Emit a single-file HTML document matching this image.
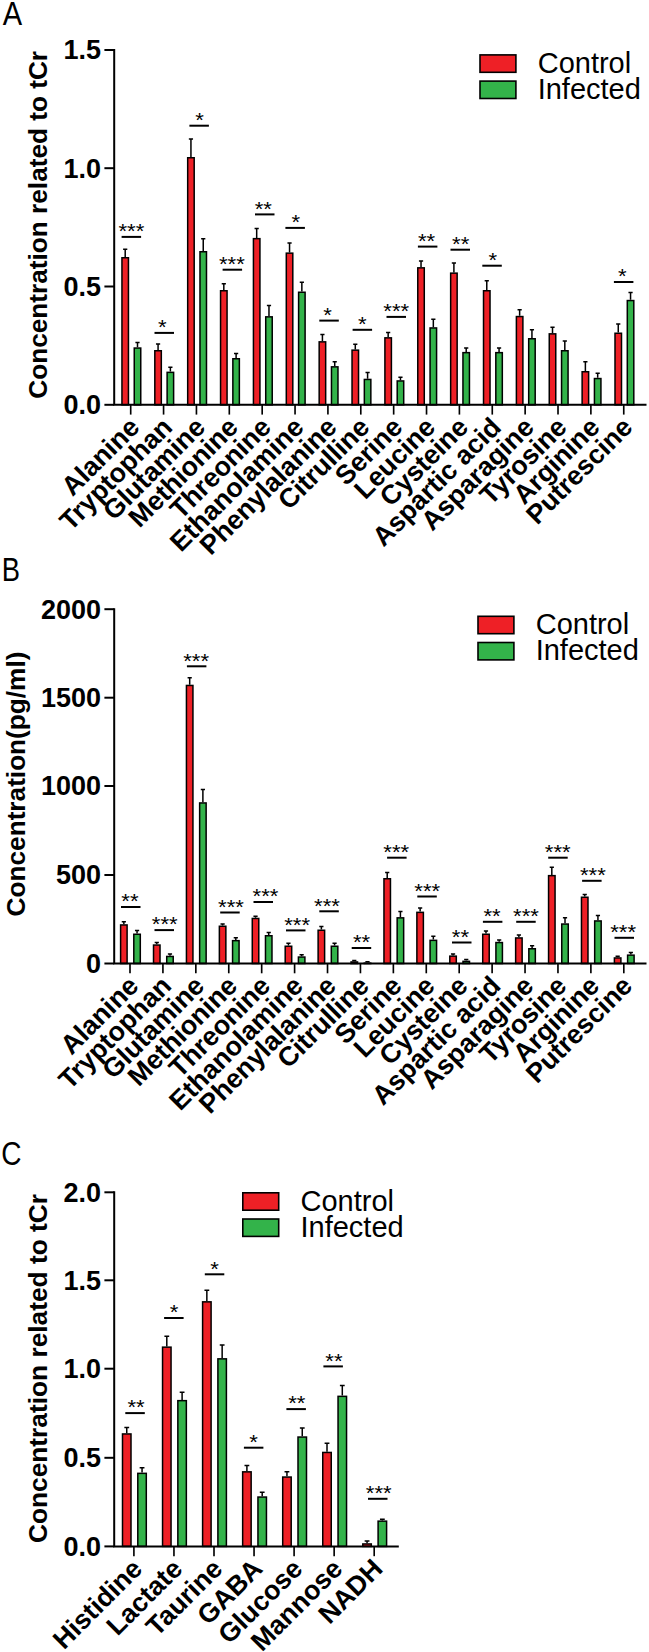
<!DOCTYPE html>
<html><head><meta charset="utf-8"><title>Figure</title>
<style>
html,body{margin:0;padding:0;background:#fff}
body{width:649px;height:1652px;overflow:hidden}
svg{display:block}
text{font-family:"Liberation Sans",sans-serif;fill:#000}
.b{font-weight:700}
.r{font-weight:400}
</style></head><body>
<svg width="649" height="1652" viewBox="0 0 649 1652">
<rect width="649" height="1652" fill="#fff"/>
<path d="M125.20 257.00V249.30M123.10 249.30H127.30" stroke="#000" stroke-width="1.5" fill="none"/>
<path d="M137.50 347.30V342.60M135.40 342.60H139.60" stroke="#000" stroke-width="1.5" fill="none"/>
<rect x="121.95" y="257.75" width="6.50" height="147.05" fill="#EE2026" stroke="#000" stroke-width="1.5"/>
<rect x="134.25" y="348.05" width="6.50" height="56.75" fill="#33B34A" stroke="#000" stroke-width="1.5"/>
<path d="M121.60 236.90h19.5" stroke="#000" stroke-width="2.0" fill="none"/>
<text transform="translate(131.40 238.10) scale(1.03 0.945)" font-size="21.5" text-anchor="middle" class="r">***</text>
<path d="M158.07 350.00V343.90M155.97 343.90H160.17" stroke="#000" stroke-width="1.5" fill="none"/>
<path d="M170.37 371.60V367.30M168.27 367.30H172.47" stroke="#000" stroke-width="1.5" fill="none"/>
<rect x="154.82" y="350.75" width="6.50" height="54.05" fill="#EE2026" stroke="#000" stroke-width="1.5"/>
<rect x="167.12" y="372.35" width="6.50" height="32.45" fill="#33B34A" stroke="#000" stroke-width="1.5"/>
<path d="M154.50 332.90h19.5" stroke="#000" stroke-width="2.0" fill="none"/>
<text transform="translate(162.20 334.10) scale(1.03 0.945)" font-size="21.5" text-anchor="middle" class="r">*</text>
<path d="M190.94 157.00V139.10M188.84 139.10H193.04" stroke="#000" stroke-width="1.5" fill="none"/>
<path d="M203.24 251.00V238.70M201.14 238.70H205.34" stroke="#000" stroke-width="1.5" fill="none"/>
<rect x="187.69" y="157.75" width="6.50" height="247.05" fill="#EE2026" stroke="#000" stroke-width="1.5"/>
<rect x="199.99" y="251.75" width="6.50" height="153.05" fill="#33B34A" stroke="#000" stroke-width="1.5"/>
<path d="M189.40 125.70h19.5" stroke="#000" stroke-width="2.0" fill="none"/>
<text transform="translate(199.50 126.90) scale(1.03 0.945)" font-size="21.5" text-anchor="middle" class="r">*</text>
<path d="M223.81 290.00V283.80M221.71 283.80H225.91" stroke="#000" stroke-width="1.5" fill="none"/>
<path d="M236.11 358.00V353.40M234.01 353.40H238.21" stroke="#000" stroke-width="1.5" fill="none"/>
<rect x="220.56" y="290.75" width="6.50" height="114.05" fill="#EE2026" stroke="#000" stroke-width="1.5"/>
<rect x="232.86" y="358.75" width="6.50" height="46.05" fill="#33B34A" stroke="#000" stroke-width="1.5"/>
<path d="M222.60 269.70h19.5" stroke="#000" stroke-width="2.0" fill="none"/>
<text transform="translate(231.90 270.90) scale(1.03 0.945)" font-size="21.5" text-anchor="middle" class="r">***</text>
<path d="M256.68 237.90V228.60M254.58 228.60H258.78" stroke="#000" stroke-width="1.5" fill="none"/>
<path d="M268.98 316.10V305.40M266.88 305.40H271.08" stroke="#000" stroke-width="1.5" fill="none"/>
<rect x="253.43" y="238.65" width="6.50" height="166.15" fill="#EE2026" stroke="#000" stroke-width="1.5"/>
<rect x="265.73" y="316.85" width="6.50" height="87.95" fill="#33B34A" stroke="#000" stroke-width="1.5"/>
<path d="M255.00 214.40h19.5" stroke="#000" stroke-width="2.0" fill="none"/>
<text transform="translate(263.30 215.60) scale(1.03 0.945)" font-size="21.5" text-anchor="middle" class="r">**</text>
<path d="M289.55 252.40V243.10M287.45 243.10H291.65" stroke="#000" stroke-width="1.5" fill="none"/>
<path d="M301.85 291.50V282.20M299.75 282.20H303.95" stroke="#000" stroke-width="1.5" fill="none"/>
<rect x="286.30" y="253.15" width="6.50" height="151.65" fill="#EE2026" stroke="#000" stroke-width="1.5"/>
<rect x="298.60" y="292.25" width="6.50" height="112.55" fill="#33B34A" stroke="#000" stroke-width="1.5"/>
<path d="M285.40 227.90h19.5" stroke="#000" stroke-width="2.0" fill="none"/>
<text transform="translate(295.70 229.10) scale(1.03 0.945)" font-size="21.5" text-anchor="middle" class="r">*</text>
<path d="M322.42 341.10V334.60M320.32 334.60H324.52" stroke="#000" stroke-width="1.5" fill="none"/>
<path d="M334.72 366.10V361.80M332.62 361.80H336.82" stroke="#000" stroke-width="1.5" fill="none"/>
<rect x="319.17" y="341.85" width="6.50" height="62.95" fill="#EE2026" stroke="#000" stroke-width="1.5"/>
<rect x="331.47" y="366.85" width="6.50" height="37.95" fill="#33B34A" stroke="#000" stroke-width="1.5"/>
<path d="M319.30 320.60h19.5" stroke="#000" stroke-width="2.0" fill="none"/>
<text transform="translate(327.60 321.80) scale(1.03 0.945)" font-size="21.5" text-anchor="middle" class="r">*</text>
<path d="M355.29 349.40V344.20M353.19 344.20H357.39" stroke="#000" stroke-width="1.5" fill="none"/>
<path d="M367.59 378.70V372.50M365.49 372.50H369.69" stroke="#000" stroke-width="1.5" fill="none"/>
<rect x="352.04" y="350.15" width="6.50" height="54.65" fill="#EE2026" stroke="#000" stroke-width="1.5"/>
<rect x="364.34" y="379.45" width="6.50" height="25.35" fill="#33B34A" stroke="#000" stroke-width="1.5"/>
<path d="M352.60 329.80h19.5" stroke="#000" stroke-width="2.0" fill="none"/>
<text transform="translate(362.40 331.00) scale(1.03 0.945)" font-size="21.5" text-anchor="middle" class="r">*</text>
<path d="M388.16 337.10V332.50M386.06 332.50H390.26" stroke="#000" stroke-width="1.5" fill="none"/>
<path d="M400.46 380.20V377.20M398.36 377.20H402.56" stroke="#000" stroke-width="1.5" fill="none"/>
<rect x="384.91" y="337.85" width="6.50" height="66.95" fill="#EE2026" stroke="#000" stroke-width="1.5"/>
<rect x="397.21" y="380.95" width="6.50" height="23.85" fill="#33B34A" stroke="#000" stroke-width="1.5"/>
<path d="M386.50 316.90h19.5" stroke="#000" stroke-width="2.0" fill="none"/>
<text transform="translate(396.30 318.10) scale(1.03 0.945)" font-size="21.5" text-anchor="middle" class="r">***</text>
<path d="M421.03 267.10V261.00M418.93 261.00H423.13" stroke="#000" stroke-width="1.5" fill="none"/>
<path d="M433.33 327.20V319.20M431.23 319.20H435.43" stroke="#000" stroke-width="1.5" fill="none"/>
<rect x="417.78" y="267.85" width="6.50" height="136.95" fill="#EE2026" stroke="#000" stroke-width="1.5"/>
<rect x="430.08" y="327.95" width="6.50" height="76.85" fill="#33B34A" stroke="#000" stroke-width="1.5"/>
<path d="M417.90 246.60h19.5" stroke="#000" stroke-width="2.0" fill="none"/>
<text transform="translate(426.50 247.80) scale(1.03 0.945)" font-size="21.5" text-anchor="middle" class="r">**</text>
<path d="M453.90 272.40V263.10M451.80 263.10H456.00" stroke="#000" stroke-width="1.5" fill="none"/>
<path d="M466.20 351.90V347.90M464.10 347.90H468.30" stroke="#000" stroke-width="1.5" fill="none"/>
<rect x="450.65" y="273.15" width="6.50" height="131.65" fill="#EE2026" stroke="#000" stroke-width="1.5"/>
<rect x="462.95" y="352.65" width="6.50" height="52.15" fill="#33B34A" stroke="#000" stroke-width="1.5"/>
<path d="M450.50 249.70h19.5" stroke="#000" stroke-width="2.0" fill="none"/>
<text transform="translate(460.70 250.90) scale(1.03 0.945)" font-size="21.5" text-anchor="middle" class="r">**</text>
<path d="M486.77 290.00V280.70M484.67 280.70H488.87" stroke="#000" stroke-width="1.5" fill="none"/>
<path d="M499.07 351.90V347.90M496.97 347.90H501.17" stroke="#000" stroke-width="1.5" fill="none"/>
<rect x="483.52" y="290.75" width="6.50" height="114.05" fill="#EE2026" stroke="#000" stroke-width="1.5"/>
<rect x="495.82" y="352.65" width="6.50" height="52.15" fill="#33B34A" stroke="#000" stroke-width="1.5"/>
<path d="M482.30 265.70h19.5" stroke="#000" stroke-width="2.0" fill="none"/>
<text transform="translate(492.80 266.90) scale(1.03 0.945)" font-size="21.5" text-anchor="middle" class="r">*</text>
<path d="M519.64 315.80V309.70M517.54 309.70H521.74" stroke="#000" stroke-width="1.5" fill="none"/>
<path d="M531.94 338.00V329.70M529.84 329.70H534.04" stroke="#000" stroke-width="1.5" fill="none"/>
<rect x="516.39" y="316.55" width="6.50" height="88.25" fill="#EE2026" stroke="#000" stroke-width="1.5"/>
<rect x="528.69" y="338.75" width="6.50" height="66.05" fill="#33B34A" stroke="#000" stroke-width="1.5"/>
<path d="M552.51 333.10V327.20M550.41 327.20H554.61" stroke="#000" stroke-width="1.5" fill="none"/>
<path d="M564.81 350.00V341.10M562.71 341.10H566.91" stroke="#000" stroke-width="1.5" fill="none"/>
<rect x="549.26" y="333.85" width="6.50" height="70.95" fill="#EE2026" stroke="#000" stroke-width="1.5"/>
<rect x="561.56" y="350.75" width="6.50" height="54.05" fill="#33B34A" stroke="#000" stroke-width="1.5"/>
<path d="M585.38 371.00V361.80M583.28 361.80H587.48" stroke="#000" stroke-width="1.5" fill="none"/>
<path d="M597.68 377.80V373.20M595.58 373.20H599.78" stroke="#000" stroke-width="1.5" fill="none"/>
<rect x="582.13" y="371.75" width="6.50" height="33.05" fill="#EE2026" stroke="#000" stroke-width="1.5"/>
<rect x="594.43" y="378.55" width="6.50" height="26.25" fill="#33B34A" stroke="#000" stroke-width="1.5"/>
<path d="M618.25 332.50V323.90M616.15 323.90H620.35" stroke="#000" stroke-width="1.5" fill="none"/>
<path d="M630.55 299.80V292.40M628.45 292.40H632.65" stroke="#000" stroke-width="1.5" fill="none"/>
<rect x="615.00" y="333.25" width="6.50" height="71.55" fill="#EE2026" stroke="#000" stroke-width="1.5"/>
<rect x="627.30" y="300.55" width="6.50" height="104.25" fill="#33B34A" stroke="#000" stroke-width="1.5"/>
<path d="M613.90 282.00h19.5" stroke="#000" stroke-width="2.0" fill="none"/>
<text transform="translate(622.20 283.20) scale(1.03 0.945)" font-size="21.5" text-anchor="middle" class="r">*</text>
<path d="M114.2 49.00V404.80H646.5" stroke="#000" stroke-width="2.0" fill="none" stroke-linejoin="miter"/>
<path d="M104.40 50.00H114.2" stroke="#000" stroke-width="2.0"/>
<text x="101.10" y="59.30" font-size="27" text-anchor="end" class="b">1.5</text>
<path d="M104.40 168.20H114.2" stroke="#000" stroke-width="2.0"/>
<text x="101.10" y="177.50" font-size="27" text-anchor="end" class="b">1.0</text>
<path d="M104.40 286.50H114.2" stroke="#000" stroke-width="2.0"/>
<text x="101.10" y="295.80" font-size="27" text-anchor="end" class="b">0.5</text>
<path d="M104.40 404.80H114.2" stroke="#000" stroke-width="2.0"/>
<text x="101.10" y="414.10" font-size="27" text-anchor="end" class="b">0.0</text>
<path d="M130.70 404.80v9.8" stroke="#000" stroke-width="1.65"/>
<text transform="translate(141.00 428.80) rotate(-45)" font-size="26.8" text-anchor="end" class="b">Alanine</text>
<path d="M163.57 404.80v9.8" stroke="#000" stroke-width="1.65"/>
<text transform="translate(173.87 428.80) rotate(-45)" font-size="26.8" text-anchor="end" class="b">Tryptophan</text>
<path d="M196.44 404.80v9.8" stroke="#000" stroke-width="1.65"/>
<text transform="translate(206.74 428.80) rotate(-45)" font-size="26.8" text-anchor="end" class="b">Glutamine</text>
<path d="M229.31 404.80v9.8" stroke="#000" stroke-width="1.65"/>
<text transform="translate(239.61 428.80) rotate(-45)" font-size="26.8" text-anchor="end" class="b">Methionine</text>
<path d="M262.18 404.80v9.8" stroke="#000" stroke-width="1.65"/>
<text transform="translate(272.48 428.80) rotate(-45)" font-size="26.8" text-anchor="end" class="b">Threonine</text>
<path d="M295.05 404.80v9.8" stroke="#000" stroke-width="1.65"/>
<text transform="translate(305.35 428.80) rotate(-45)" font-size="26.8" text-anchor="end" class="b">Ethanolamine</text>
<path d="M327.92 404.80v9.8" stroke="#000" stroke-width="1.65"/>
<text transform="translate(338.22 428.80) rotate(-45)" font-size="26.8" text-anchor="end" class="b">Phenylalanine</text>
<path d="M360.79 404.80v9.8" stroke="#000" stroke-width="1.65"/>
<text transform="translate(371.09 428.80) rotate(-45)" font-size="26.8" text-anchor="end" class="b">Citrulline</text>
<path d="M393.66 404.80v9.8" stroke="#000" stroke-width="1.65"/>
<text transform="translate(403.96 428.80) rotate(-45)" font-size="26.8" text-anchor="end" class="b">Serine</text>
<path d="M426.53 404.80v9.8" stroke="#000" stroke-width="1.65"/>
<text transform="translate(436.83 428.80) rotate(-45)" font-size="26.8" text-anchor="end" class="b">Leucine</text>
<path d="M459.40 404.80v9.8" stroke="#000" stroke-width="1.65"/>
<text transform="translate(469.70 428.80) rotate(-45)" font-size="26.8" text-anchor="end" class="b">Cysteine</text>
<path d="M492.27 404.80v9.8" stroke="#000" stroke-width="1.65"/>
<text transform="translate(502.57 428.80) rotate(-45)" font-size="26.8" text-anchor="end" class="b">Aspartic acid</text>
<path d="M525.14 404.80v9.8" stroke="#000" stroke-width="1.65"/>
<text transform="translate(535.44 428.80) rotate(-45)" font-size="26.8" text-anchor="end" class="b">Asparagine</text>
<path d="M558.01 404.80v9.8" stroke="#000" stroke-width="1.65"/>
<text transform="translate(568.31 428.80) rotate(-45)" font-size="26.8" text-anchor="end" class="b">Tyrosine</text>
<path d="M590.88 404.80v9.8" stroke="#000" stroke-width="1.65"/>
<text transform="translate(601.18 428.80) rotate(-45)" font-size="26.8" text-anchor="end" class="b">Arginine</text>
<path d="M623.75 404.80v9.8" stroke="#000" stroke-width="1.65"/>
<text transform="translate(634.05 428.80) rotate(-45)" font-size="26.8" text-anchor="end" class="b">Putrescine</text>
<text transform="translate(47.0 224.8) rotate(-90)" font-size="26.2" text-anchor="middle" class="b">Concentration related to tCr</text>
<rect x="480.00" y="54.90" width="35.9" height="17.4" fill="#EE2026" stroke="#000" stroke-width="1.6"/>
<rect x="480.00" y="81.10" width="35.9" height="17.4" fill="#33B34A" stroke="#000" stroke-width="1.6"/>
<text x="537.70" y="73.00" font-size="29" class="r">Control</text>
<text x="537.70" y="98.80" font-size="29" class="r">Infected</text>
<text transform="translate(2.7 24.8) scale(0.855 1)" font-size="34" class="r">A</text>
<path d="M123.85 924.20V921.80M121.75 921.80H125.95" stroke="#000" stroke-width="1.5" fill="none"/>
<path d="M137.05 933.50V930.40M134.95 930.40H139.15" stroke="#000" stroke-width="1.5" fill="none"/>
<rect x="120.60" y="924.95" width="6.50" height="38.55" fill="#EE2026" stroke="#000" stroke-width="1.5"/>
<rect x="133.80" y="934.25" width="6.50" height="29.25" fill="#33B34A" stroke="#000" stroke-width="1.5"/>
<path d="M121.00 907.00h19.5" stroke="#000" stroke-width="2.0" fill="none"/>
<text transform="translate(129.90 908.20) scale(1.03 0.945)" font-size="21.5" text-anchor="middle" class="r">**</text>
<path d="M156.77 944.30V942.40M154.67 942.40H158.87" stroke="#000" stroke-width="1.5" fill="none"/>
<path d="M169.97 955.70V954.10M167.87 954.10H172.07" stroke="#000" stroke-width="1.5" fill="none"/>
<rect x="153.52" y="945.05" width="6.50" height="18.45" fill="#EE2026" stroke="#000" stroke-width="1.5"/>
<rect x="166.72" y="956.45" width="6.50" height="7.05" fill="#33B34A" stroke="#000" stroke-width="1.5"/>
<path d="M154.50 930.10h19.5" stroke="#000" stroke-width="2.0" fill="none"/>
<text transform="translate(164.70 931.30) scale(1.03 0.945)" font-size="21.5" text-anchor="middle" class="r">***</text>
<path d="M189.69 684.70V677.70M187.59 677.70H191.79" stroke="#000" stroke-width="1.5" fill="none"/>
<path d="M202.89 802.20V789.40M200.79 789.40H204.99" stroke="#000" stroke-width="1.5" fill="none"/>
<rect x="186.44" y="685.45" width="6.50" height="278.05" fill="#EE2026" stroke="#000" stroke-width="1.5"/>
<rect x="199.64" y="802.95" width="6.50" height="160.55" fill="#33B34A" stroke="#000" stroke-width="1.5"/>
<path d="M186.90 666.30h19.5" stroke="#000" stroke-width="2.0" fill="none"/>
<text transform="translate(196.10 667.50) scale(1.03 0.945)" font-size="21.5" text-anchor="middle" class="r">***</text>
<path d="M222.61 925.50V923.90M220.51 923.90H224.71" stroke="#000" stroke-width="1.5" fill="none"/>
<path d="M235.81 939.90V937.80M233.71 937.80H237.91" stroke="#000" stroke-width="1.5" fill="none"/>
<rect x="219.36" y="926.25" width="6.50" height="37.25" fill="#EE2026" stroke="#000" stroke-width="1.5"/>
<rect x="232.56" y="940.65" width="6.50" height="22.85" fill="#33B34A" stroke="#000" stroke-width="1.5"/>
<path d="M220.20 912.50h19.5" stroke="#000" stroke-width="2.0" fill="none"/>
<text transform="translate(231.00 913.70) scale(1.03 0.945)" font-size="21.5" text-anchor="middle" class="r">***</text>
<path d="M255.53 917.70V916.20M253.43 916.20H257.63" stroke="#000" stroke-width="1.5" fill="none"/>
<path d="M268.73 935.00V932.50M266.63 932.50H270.83" stroke="#000" stroke-width="1.5" fill="none"/>
<rect x="252.28" y="918.45" width="6.50" height="45.05" fill="#EE2026" stroke="#000" stroke-width="1.5"/>
<rect x="265.48" y="935.75" width="6.50" height="27.75" fill="#33B34A" stroke="#000" stroke-width="1.5"/>
<path d="M253.50 902.00h19.5" stroke="#000" stroke-width="2.0" fill="none"/>
<text transform="translate(265.50 903.20) scale(1.03 0.945)" font-size="21.5" text-anchor="middle" class="r">***</text>
<path d="M288.45 945.50V943.30M286.35 943.30H290.55" stroke="#000" stroke-width="1.5" fill="none"/>
<path d="M301.65 956.30V954.70M299.55 954.70H303.75" stroke="#000" stroke-width="1.5" fill="none"/>
<rect x="285.20" y="946.25" width="6.50" height="17.25" fill="#EE2026" stroke="#000" stroke-width="1.5"/>
<rect x="298.40" y="957.05" width="6.50" height="6.45" fill="#33B34A" stroke="#000" stroke-width="1.5"/>
<path d="M286.00 930.40h19.5" stroke="#000" stroke-width="2.0" fill="none"/>
<text transform="translate(297.10 931.60) scale(1.03 0.945)" font-size="21.5" text-anchor="middle" class="r">***</text>
<path d="M321.37 929.50V926.40M319.27 926.40H323.47" stroke="#000" stroke-width="1.5" fill="none"/>
<path d="M334.57 945.50V943.30M332.47 943.30H336.67" stroke="#000" stroke-width="1.5" fill="none"/>
<rect x="318.12" y="930.25" width="6.50" height="33.25" fill="#EE2026" stroke="#000" stroke-width="1.5"/>
<rect x="331.32" y="946.25" width="6.50" height="17.25" fill="#33B34A" stroke="#000" stroke-width="1.5"/>
<path d="M319.30 911.30h19.5" stroke="#000" stroke-width="2.0" fill="none"/>
<text transform="translate(327.00 912.50) scale(1.03 0.945)" font-size="21.5" text-anchor="middle" class="r">***</text>
<path d="M354.29 961.20V960.60M352.19 960.60H356.39" stroke="#000" stroke-width="1.5" fill="none"/>
<path d="M367.49 962.40V961.80M365.39 961.80H369.59" stroke="#000" stroke-width="1.5" fill="none"/>
<rect x="351.04" y="961.95" width="6.50" height="1.55" fill="#EE2026" stroke="#000" stroke-width="1.5"/>
<rect x="364.24" y="963.15" width="6.50" height="0.35" fill="#33B34A" stroke="#000" stroke-width="1.5"/>
<path d="M351.70 948.00h19.5" stroke="#000" stroke-width="2.0" fill="none"/>
<text transform="translate(361.50 949.20) scale(1.03 0.945)" font-size="21.5" text-anchor="middle" class="r">**</text>
<path d="M387.21 878.00V872.40M385.11 872.40H389.31" stroke="#000" stroke-width="1.5" fill="none"/>
<path d="M400.41 917.10V911.60M398.31 911.60H402.51" stroke="#000" stroke-width="1.5" fill="none"/>
<rect x="383.96" y="878.75" width="6.50" height="84.75" fill="#EE2026" stroke="#000" stroke-width="1.5"/>
<rect x="397.16" y="917.85" width="6.50" height="45.65" fill="#33B34A" stroke="#000" stroke-width="1.5"/>
<path d="M387.10 857.70h19.5" stroke="#000" stroke-width="2.0" fill="none"/>
<text transform="translate(396.30 858.90) scale(1.03 0.945)" font-size="21.5" text-anchor="middle" class="r">***</text>
<path d="M420.13 911.60V907.90M418.03 907.90H422.23" stroke="#000" stroke-width="1.5" fill="none"/>
<path d="M433.33 939.60V936.20M431.23 936.20H435.43" stroke="#000" stroke-width="1.5" fill="none"/>
<rect x="416.88" y="912.35" width="6.50" height="51.15" fill="#EE2026" stroke="#000" stroke-width="1.5"/>
<rect x="430.08" y="940.35" width="6.50" height="23.15" fill="#33B34A" stroke="#000" stroke-width="1.5"/>
<path d="M417.30 896.50h19.5" stroke="#000" stroke-width="2.0" fill="none"/>
<text transform="translate(427.20 897.70) scale(1.03 0.945)" font-size="21.5" text-anchor="middle" class="r">***</text>
<path d="M453.05 955.40V954.10M450.95 954.10H455.15" stroke="#000" stroke-width="1.5" fill="none"/>
<path d="M466.25 960.60V959.40M464.15 959.40H468.35" stroke="#000" stroke-width="1.5" fill="none"/>
<rect x="449.80" y="956.15" width="6.50" height="7.35" fill="#EE2026" stroke="#000" stroke-width="1.5"/>
<rect x="463.00" y="961.35" width="6.50" height="2.15" fill="#33B34A" stroke="#000" stroke-width="1.5"/>
<path d="M452.00 942.50h19.5" stroke="#000" stroke-width="2.0" fill="none"/>
<text transform="translate(460.40 943.70) scale(1.03 0.945)" font-size="21.5" text-anchor="middle" class="r">**</text>
<path d="M485.97 933.50V931.00M483.87 931.00H488.07" stroke="#000" stroke-width="1.5" fill="none"/>
<path d="M499.17 941.80V939.90M497.07 939.90H501.27" stroke="#000" stroke-width="1.5" fill="none"/>
<rect x="482.72" y="934.25" width="6.50" height="29.25" fill="#EE2026" stroke="#000" stroke-width="1.5"/>
<rect x="495.92" y="942.55" width="6.50" height="20.95" fill="#33B34A" stroke="#000" stroke-width="1.5"/>
<path d="M482.90 921.80h19.5" stroke="#000" stroke-width="2.0" fill="none"/>
<text transform="translate(492.10 923.00) scale(1.03 0.945)" font-size="21.5" text-anchor="middle" class="r">**</text>
<path d="M518.89 937.20V935.00M516.79 935.00H520.99" stroke="#000" stroke-width="1.5" fill="none"/>
<path d="M532.09 948.00V945.80M529.99 945.80H534.19" stroke="#000" stroke-width="1.5" fill="none"/>
<rect x="515.64" y="937.95" width="6.50" height="25.55" fill="#EE2026" stroke="#000" stroke-width="1.5"/>
<rect x="528.84" y="948.75" width="6.50" height="14.75" fill="#33B34A" stroke="#000" stroke-width="1.5"/>
<path d="M516.20 921.80h19.5" stroke="#000" stroke-width="2.0" fill="none"/>
<text transform="translate(526.00 923.00) scale(1.03 0.945)" font-size="21.5" text-anchor="middle" class="r">***</text>
<path d="M551.81 874.90V867.20M549.71 867.20H553.91" stroke="#000" stroke-width="1.5" fill="none"/>
<path d="M565.01 923.30V917.80M562.91 917.80H567.11" stroke="#000" stroke-width="1.5" fill="none"/>
<rect x="548.56" y="875.65" width="6.50" height="87.85" fill="#EE2026" stroke="#000" stroke-width="1.5"/>
<rect x="561.76" y="924.05" width="6.50" height="39.45" fill="#33B34A" stroke="#000" stroke-width="1.5"/>
<path d="M548.20 857.70h19.5" stroke="#000" stroke-width="2.0" fill="none"/>
<text transform="translate(557.80 858.90) scale(1.03 0.945)" font-size="21.5" text-anchor="middle" class="r">***</text>
<path d="M584.73 896.50V894.60M582.63 894.60H586.83" stroke="#000" stroke-width="1.5" fill="none"/>
<path d="M597.93 920.20V915.60M595.83 915.60H600.03" stroke="#000" stroke-width="1.5" fill="none"/>
<rect x="581.48" y="897.25" width="6.50" height="66.25" fill="#EE2026" stroke="#000" stroke-width="1.5"/>
<rect x="594.68" y="920.95" width="6.50" height="42.55" fill="#33B34A" stroke="#000" stroke-width="1.5"/>
<path d="M582.10 880.80h19.5" stroke="#000" stroke-width="2.0" fill="none"/>
<text transform="translate(592.90 882.00) scale(1.03 0.945)" font-size="21.5" text-anchor="middle" class="r">***</text>
<path d="M617.65 957.20V956.30M615.55 956.30H619.75" stroke="#000" stroke-width="1.5" fill="none"/>
<path d="M630.85 954.40V952.60M628.75 952.60H632.95" stroke="#000" stroke-width="1.5" fill="none"/>
<rect x="614.40" y="957.95" width="6.50" height="5.55" fill="#EE2026" stroke="#000" stroke-width="1.5"/>
<rect x="627.60" y="955.15" width="6.50" height="8.35" fill="#33B34A" stroke="#000" stroke-width="1.5"/>
<path d="M614.50 937.80h19.5" stroke="#000" stroke-width="2.0" fill="none"/>
<text transform="translate(623.10 939.00) scale(1.03 0.945)" font-size="21.5" text-anchor="middle" class="r">***</text>
<path d="M114.2 608.20V963.50H646.5" stroke="#000" stroke-width="2.0" fill="none" stroke-linejoin="miter"/>
<path d="M104.40 609.20H114.2" stroke="#000" stroke-width="2.0"/>
<text x="101.10" y="618.50" font-size="27" text-anchor="end" class="b">2000</text>
<path d="M104.40 697.70H114.2" stroke="#000" stroke-width="2.0"/>
<text x="101.10" y="707.00" font-size="27" text-anchor="end" class="b">1500</text>
<path d="M104.40 786.00H114.2" stroke="#000" stroke-width="2.0"/>
<text x="101.10" y="795.30" font-size="27" text-anchor="end" class="b">1000</text>
<path d="M104.40 875.00H114.2" stroke="#000" stroke-width="2.0"/>
<text x="101.10" y="884.30" font-size="27" text-anchor="end" class="b">500</text>
<path d="M104.40 963.50H114.2" stroke="#000" stroke-width="2.0"/>
<text x="101.10" y="972.80" font-size="27" text-anchor="end" class="b">0</text>
<path d="M130.00 963.50v9.8" stroke="#000" stroke-width="1.65"/>
<text transform="translate(140.00 987.50) rotate(-45)" font-size="26.8" text-anchor="end" class="b">Alanine</text>
<path d="M162.92 963.50v9.8" stroke="#000" stroke-width="1.65"/>
<text transform="translate(172.92 987.50) rotate(-45)" font-size="26.8" text-anchor="end" class="b">Tryptophan</text>
<path d="M195.84 963.50v9.8" stroke="#000" stroke-width="1.65"/>
<text transform="translate(205.84 987.50) rotate(-45)" font-size="26.8" text-anchor="end" class="b">Glutamine</text>
<path d="M228.76 963.50v9.8" stroke="#000" stroke-width="1.65"/>
<text transform="translate(238.76 987.50) rotate(-45)" font-size="26.8" text-anchor="end" class="b">Methionine</text>
<path d="M261.68 963.50v9.8" stroke="#000" stroke-width="1.65"/>
<text transform="translate(271.68 987.50) rotate(-45)" font-size="26.8" text-anchor="end" class="b">Threonine</text>
<path d="M294.60 963.50v9.8" stroke="#000" stroke-width="1.65"/>
<text transform="translate(304.60 987.50) rotate(-45)" font-size="26.8" text-anchor="end" class="b">Ethanolamine</text>
<path d="M327.52 963.50v9.8" stroke="#000" stroke-width="1.65"/>
<text transform="translate(337.52 987.50) rotate(-45)" font-size="26.8" text-anchor="end" class="b">Phenylalanine</text>
<path d="M360.44 963.50v9.8" stroke="#000" stroke-width="1.65"/>
<text transform="translate(370.44 987.50) rotate(-45)" font-size="26.8" text-anchor="end" class="b">Citrulline</text>
<path d="M393.36 963.50v9.8" stroke="#000" stroke-width="1.65"/>
<text transform="translate(403.36 987.50) rotate(-45)" font-size="26.8" text-anchor="end" class="b">Serine</text>
<path d="M426.28 963.50v9.8" stroke="#000" stroke-width="1.65"/>
<text transform="translate(436.28 987.50) rotate(-45)" font-size="26.8" text-anchor="end" class="b">Leucine</text>
<path d="M459.20 963.50v9.8" stroke="#000" stroke-width="1.65"/>
<text transform="translate(469.20 987.50) rotate(-45)" font-size="26.8" text-anchor="end" class="b">Cysteine</text>
<path d="M492.12 963.50v9.8" stroke="#000" stroke-width="1.65"/>
<text transform="translate(502.12 987.50) rotate(-45)" font-size="26.8" text-anchor="end" class="b">Aspartic acid</text>
<path d="M525.04 963.50v9.8" stroke="#000" stroke-width="1.65"/>
<text transform="translate(535.04 987.50) rotate(-45)" font-size="26.8" text-anchor="end" class="b">Asparagine</text>
<path d="M557.96 963.50v9.8" stroke="#000" stroke-width="1.65"/>
<text transform="translate(567.96 987.50) rotate(-45)" font-size="26.8" text-anchor="end" class="b">Tyrosine</text>
<path d="M590.88 963.50v9.8" stroke="#000" stroke-width="1.65"/>
<text transform="translate(600.88 987.50) rotate(-45)" font-size="26.8" text-anchor="end" class="b">Arginine</text>
<path d="M623.80 963.50v9.8" stroke="#000" stroke-width="1.65"/>
<text transform="translate(633.80 987.50) rotate(-45)" font-size="26.8" text-anchor="end" class="b">Putrescine</text>
<text transform="translate(25.3 784) rotate(-90)" font-size="26.2" text-anchor="middle" class="b">Concentration(pg/ml)</text>
<rect x="478.00" y="616.30" width="35.9" height="17.4" fill="#EE2026" stroke="#000" stroke-width="1.6"/>
<rect x="478.00" y="642.50" width="35.9" height="17.4" fill="#33B34A" stroke="#000" stroke-width="1.6"/>
<text x="535.70" y="634.40" font-size="29" class="r">Control</text>
<text x="535.70" y="660.20" font-size="29" class="r">Infected</text>
<text transform="translate(1.8 581.2) scale(0.805 1)" font-size="34" class="r">B</text>
<path d="M126.75 1433.20V1427.60M124.35 1427.60H129.15" stroke="#000" stroke-width="1.5" fill="none"/>
<path d="M142.05 1472.60V1467.70M139.65 1467.70H144.45" stroke="#000" stroke-width="1.5" fill="none"/>
<rect x="122.50" y="1433.95" width="8.50" height="112.45" fill="#EE2026" stroke="#000" stroke-width="1.5"/>
<rect x="137.80" y="1473.35" width="8.50" height="73.05" fill="#33B34A" stroke="#000" stroke-width="1.5"/>
<path d="M125.30 1413.10h19.5" stroke="#000" stroke-width="2.0" fill="none"/>
<text transform="translate(136.00 1414.30) scale(1.03 0.945)" font-size="21.5" text-anchor="middle" class="r">**</text>
<path d="M166.80 1346.40V1336.20M164.40 1336.20H169.20" stroke="#000" stroke-width="1.5" fill="none"/>
<path d="M182.10 1399.90V1392.20M179.70 1392.20H184.50" stroke="#000" stroke-width="1.5" fill="none"/>
<rect x="162.55" y="1347.15" width="8.50" height="199.25" fill="#EE2026" stroke="#000" stroke-width="1.5"/>
<rect x="177.85" y="1400.65" width="8.50" height="145.75" fill="#33B34A" stroke="#000" stroke-width="1.5"/>
<path d="M164.10 1318.00h19.5" stroke="#000" stroke-width="2.0" fill="none"/>
<text transform="translate(174.00 1319.20) scale(1.03 0.945)" font-size="21.5" text-anchor="middle" class="r">*</text>
<path d="M206.85 1301.10V1290.30M204.45 1290.30H209.25" stroke="#000" stroke-width="1.5" fill="none"/>
<path d="M222.15 1358.10V1344.90M219.75 1344.90H224.55" stroke="#000" stroke-width="1.5" fill="none"/>
<rect x="202.60" y="1301.85" width="8.50" height="244.55" fill="#EE2026" stroke="#000" stroke-width="1.5"/>
<rect x="217.90" y="1358.85" width="8.50" height="187.55" fill="#33B34A" stroke="#000" stroke-width="1.5"/>
<path d="M204.80 1274.30h19.5" stroke="#000" stroke-width="2.0" fill="none"/>
<text transform="translate(214.60 1275.50) scale(1.03 0.945)" font-size="21.5" text-anchor="middle" class="r">*</text>
<path d="M246.90 1471.10V1465.50M244.50 1465.50H249.30" stroke="#000" stroke-width="1.5" fill="none"/>
<path d="M262.20 1496.30V1492.30M259.80 1492.30H264.60" stroke="#000" stroke-width="1.5" fill="none"/>
<rect x="242.65" y="1471.85" width="8.50" height="74.55" fill="#EE2026" stroke="#000" stroke-width="1.5"/>
<rect x="257.95" y="1497.05" width="8.50" height="49.35" fill="#33B34A" stroke="#000" stroke-width="1.5"/>
<path d="M243.90 1447.70h19.5" stroke="#000" stroke-width="2.0" fill="none"/>
<text transform="translate(253.50 1448.90) scale(1.03 0.945)" font-size="21.5" text-anchor="middle" class="r">*</text>
<path d="M286.95 1476.30V1471.70M284.55 1471.70H289.35" stroke="#000" stroke-width="1.5" fill="none"/>
<path d="M302.25 1436.30V1427.90M299.85 1427.90H304.65" stroke="#000" stroke-width="1.5" fill="none"/>
<rect x="282.70" y="1477.05" width="8.50" height="69.35" fill="#EE2026" stroke="#000" stroke-width="1.5"/>
<rect x="298.00" y="1437.05" width="8.50" height="109.35" fill="#33B34A" stroke="#000" stroke-width="1.5"/>
<path d="M286.40 1409.10h19.5" stroke="#000" stroke-width="2.0" fill="none"/>
<text transform="translate(296.80 1410.30) scale(1.03 0.945)" font-size="21.5" text-anchor="middle" class="r">**</text>
<path d="M327.00 1451.70V1443.30M324.60 1443.30H329.40" stroke="#000" stroke-width="1.5" fill="none"/>
<path d="M342.30 1395.60V1385.40M339.90 1385.40H344.70" stroke="#000" stroke-width="1.5" fill="none"/>
<rect x="322.75" y="1452.45" width="8.50" height="93.95" fill="#EE2026" stroke="#000" stroke-width="1.5"/>
<rect x="338.05" y="1396.35" width="8.50" height="150.05" fill="#33B34A" stroke="#000" stroke-width="1.5"/>
<path d="M323.40 1366.40h19.5" stroke="#000" stroke-width="2.0" fill="none"/>
<text transform="translate(333.90 1367.60) scale(1.03 0.945)" font-size="21.5" text-anchor="middle" class="r">**</text>
<path d="M367.05 1543.20V1541.00M364.65 1541.00H369.45" stroke="#000" stroke-width="1.5" fill="none"/>
<path d="M382.35 1520.40V1519.20M379.95 1519.20H384.75" stroke="#000" stroke-width="1.5" fill="none"/>
<rect x="362.80" y="1543.95" width="8.50" height="2.45" fill="#EE2026" stroke="#000" stroke-width="1.5"/>
<rect x="378.10" y="1521.15" width="8.50" height="25.25" fill="#33B34A" stroke="#000" stroke-width="1.5"/>
<path d="M368.00 1498.80h19.5" stroke="#000" stroke-width="2.0" fill="none"/>
<text transform="translate(378.80 1500.00) scale(1.03 0.945)" font-size="21.5" text-anchor="middle" class="r">***</text>
<path d="M114.2 1191.30V1546.40H398.8" stroke="#000" stroke-width="2.0" fill="none" stroke-linejoin="miter"/>
<path d="M104.40 1192.30H114.2" stroke="#000" stroke-width="2.0"/>
<text x="101.10" y="1201.60" font-size="27" text-anchor="end" class="b">2.0</text>
<path d="M104.40 1280.30H114.2" stroke="#000" stroke-width="2.0"/>
<text x="101.10" y="1289.60" font-size="27" text-anchor="end" class="b">1.5</text>
<path d="M104.40 1368.70H114.2" stroke="#000" stroke-width="2.0"/>
<text x="101.10" y="1378.00" font-size="27" text-anchor="end" class="b">1.0</text>
<path d="M104.40 1457.80H114.2" stroke="#000" stroke-width="2.0"/>
<text x="101.10" y="1467.10" font-size="27" text-anchor="end" class="b">0.5</text>
<path d="M104.40 1546.40H114.2" stroke="#000" stroke-width="2.0"/>
<text x="101.10" y="1555.70" font-size="27" text-anchor="end" class="b">0.0</text>
<path d="M133.90 1546.40v9.8" stroke="#000" stroke-width="1.65"/>
<text transform="translate(143.90 1570.40) rotate(-45)" font-size="26.8" text-anchor="end" class="b">Histidine</text>
<path d="M173.95 1546.40v9.8" stroke="#000" stroke-width="1.65"/>
<text transform="translate(183.95 1570.40) rotate(-45)" font-size="26.8" text-anchor="end" class="b">Lactate</text>
<path d="M214.00 1546.40v9.8" stroke="#000" stroke-width="1.65"/>
<text transform="translate(224.00 1570.40) rotate(-45)" font-size="26.8" text-anchor="end" class="b">Taurine</text>
<path d="M254.05 1546.40v9.8" stroke="#000" stroke-width="1.65"/>
<text transform="translate(264.05 1570.40) rotate(-45)" font-size="26.8" text-anchor="end" class="b">GABA</text>
<path d="M294.10 1546.40v9.8" stroke="#000" stroke-width="1.65"/>
<text transform="translate(304.10 1570.40) rotate(-45)" font-size="26.8" text-anchor="end" class="b">Glucose</text>
<path d="M334.15 1546.40v9.8" stroke="#000" stroke-width="1.65"/>
<text transform="translate(344.15 1570.40) rotate(-45)" font-size="26.8" text-anchor="end" class="b">Mannose</text>
<path d="M374.20 1546.40v9.8" stroke="#000" stroke-width="1.65"/>
<text transform="translate(384.20 1570.40) rotate(-45)" font-size="26.8" text-anchor="end" class="b">NADH</text>
<text transform="translate(47.0 1368.5) rotate(-90)" font-size="26.3" text-anchor="middle" class="b">Concentration related to tCr</text>
<rect x="242.80" y="1192.80" width="35.9" height="17.4" fill="#EE2026" stroke="#000" stroke-width="1.6"/>
<rect x="242.80" y="1219.00" width="35.9" height="17.4" fill="#33B34A" stroke="#000" stroke-width="1.6"/>
<text x="300.50" y="1210.90" font-size="29" class="r">Control</text>
<text x="300.50" y="1236.70" font-size="29" class="r">Infected</text>
<text transform="translate(1.3 1164.9) scale(0.825 1)" font-size="34" class="r">C</text>
</svg>
</body></html>
